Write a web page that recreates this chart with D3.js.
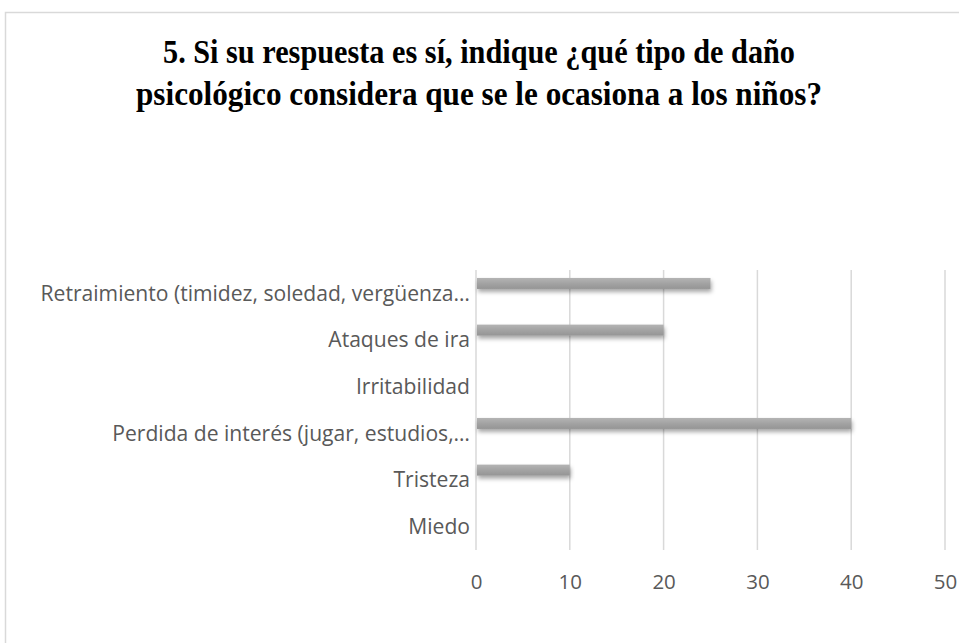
<!DOCTYPE html>
<html>
<head>
<meta charset="utf-8">
<script src="https://cdn.jsdelivr.net/npm/d3@7"></script>
<style>
	body { margin: 0; background: #fff; }
	svg { display: block; }
	.cat text, .val text { font-family: "Open Sans", "Noto Sans", sans-serif; fill: #595959; }
</style>
</head>
<body>
<div id="chart"></div>
<script>
// chart data
var titleLines = ["5. Si su respuesta es sí, indique ¿qué tipo de daño", "psicológico considera que se le ocasiona a los niños?"];
var titleWidths = [632, 686];
var categories = ["Retraimiento (timidez, soledad, vergüenza…", "Ataques de ira", "Irritabilidad", "Perdida de interés (jugar, estudios,…", "Tristeza", "Miedo"];
var values = [25, 20, 0, 40, 10, 0];
var xTicks = [0, 10, 20, 30, 40, 50];

var width = 959, height = 643;
var margin = { top: 270, right: 14, bottom: 93, left: 476 };

var svg = d3.select("#chart").append("svg")
	.attr("width", width)
	.attr("height", height);

var defs = svg.append("defs");
var grad = defs.append("linearGradient")
	.attr("id", "barGrad")
	.attr("x1", 0).attr("y1", 0).attr("x2", 0).attr("y2", 1);
grad.append("stop").attr("offset", "0%").attr("stop-color", "#b4b4b4");
grad.append("stop").attr("offset", "50%").attr("stop-color", "#a3a3a3");
grad.append("stop").attr("offset", "100%").attr("stop-color", "#959595");

var shadow = defs.append("filter")
	.attr("id", "barShadow")
	.attr("x", "-5%").attr("y", "-50%").attr("width", "110%").attr("height", "220%");
shadow.append("feDropShadow")
	.attr("dx", 1).attr("dy", 3)
	.attr("stdDeviation", 2)
	.attr("flood-color", "#000")
	.attr("flood-opacity", 0.35);

// outer frame
svg.append("rect")
	.attr("x", 5.5).attr("y", 12.5)
	.attr("width", 1000).attr("height", 700)
	.attr("fill", "none")
	.attr("stroke", "#d9d9d9")
	.attr("stroke-width", 1.5);

// title (word renders it condensed, so squeeze to measured widths)
svg.append("g").selectAll("text")
	.data(titleLines)
	.enter()
	.append("text")
	.attr("x", 479)
	.attr("y", function(d, i) { return 63 + i * 42; })
	.attr("text-anchor", "middle")
	.attr("textLength", function(d, i) { return titleWidths[i]; })
	.attr("lengthAdjust", "spacingAndGlyphs")
	.style("font-family", "'Liberation Serif', 'Times New Roman', serif")
	.style("font-weight", "bold")
	.style("font-size", "33px")
	.style("fill", "#000")
	.text(function(d) { return d; });

var x = d3.scaleLinear()
	.domain([0, 50])
	.range([margin.left, width - margin.right]);

var y = d3.scaleBand()
	.domain(categories)
	.range([margin.top, height - margin.bottom]);

// bars sit in the upper slot of each category band
var slot = d3.scaleBand()
	.domain(["s1", "s2"])
	.range([0, y.bandwidth()])
	.paddingInner(0.04)
	.paddingOuter(0.2);

// gridlines
svg.append("g")
	.selectAll("line")
	.data(xTicks)
	.enter()
	.append("line")
	.attr("x1", function(d) { return x(d); })
	.attr("x2", function(d) { return x(d); })
	.attr("y1", margin.top)
	.attr("y2", height - margin.bottom)
	.attr("stroke", "#d9d9d9")
	.attr("stroke-width", 1.5);

// bars
var barH = 11;
svg.append("g")
	.selectAll("rect")
	.data(categories.map(function(c, i) { return { cat: c, v: values[i] }; }).filter(function(d) { return d.v > 0; }))
	.enter()
	.append("rect")
	.attr("x", x(0) + 1)
	.attr("y", function(d) { return y(d.cat) + slot("s1") + slot.bandwidth() / 2 - barH / 2; })
	.attr("width", function(d) { return x(d.v) - x(0) - 1; })
	.attr("height", barH)
	.attr("fill", "url(#barGrad)")
	.attr("filter", "url(#barShadow)");

// category axis
var yAxis = svg.append("g")
	.attr("class", "cat")
	.attr("transform", "translate(" + (margin.left - 6) + ",0)")
	.call(d3.axisLeft(y).tickSize(0).tickPadding(0));
yAxis.select(".domain").remove();
yAxis.selectAll("text").style("font-size", "21.1px").attr("dy", "0.35em");

// value axis
var xAxis = svg.append("g")
	.attr("class", "val")
	.attr("transform", "translate(0," + (height - margin.bottom) + ")")
	.call(d3.axisBottom(x).tickValues(xTicks).tickSize(0).tickPadding(24));
xAxis.select(".domain").remove();
xAxis.selectAll("text").style("font-size", "20.5px");
</script>
</body>
</html>
